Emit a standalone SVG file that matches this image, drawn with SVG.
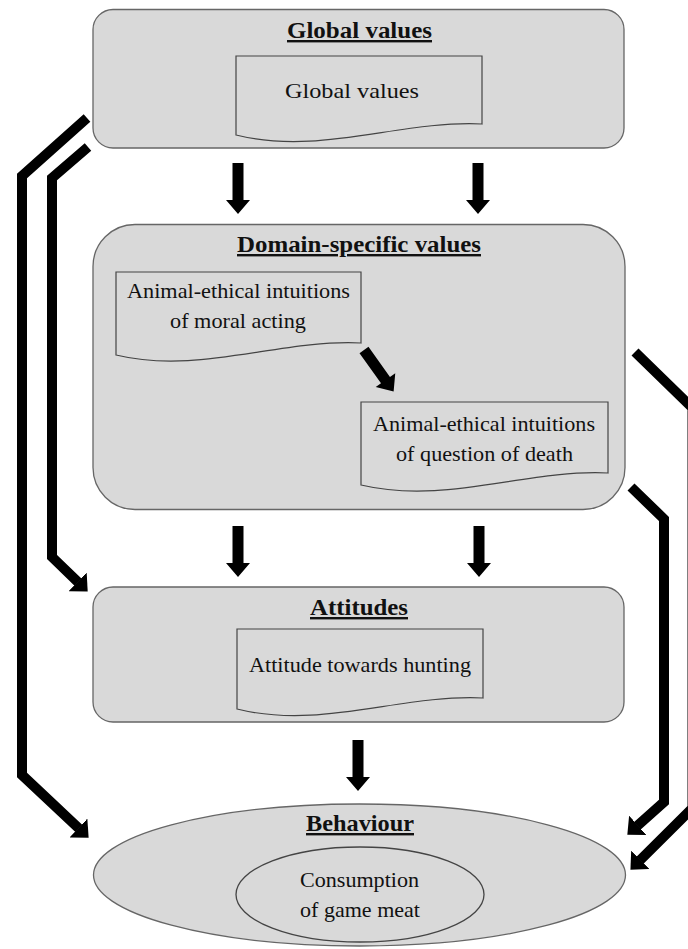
<svg xmlns="http://www.w3.org/2000/svg" xmlns:xlink="http://www.w3.org/1999/xlink" width="688" height="949" viewBox="0 0 688 949">
<style>
.box{fill:#d9d9d9;stroke:#666;stroke-width:1.3}
.doc{fill:#d9d9d9;stroke:#444;stroke-width:1.2}
.t{font-family:"Liberation Serif","Times New Roman",serif;font-size:21px;fill:#111;text-anchor:middle}
.h{font-family:"Liberation Serif","Times New Roman",serif;font-size:24px;font-weight:bold;fill:#111;text-anchor:middle;text-decoration:underline}
.con{fill:none;stroke:#000;stroke-width:10;stroke-linejoin:miter}
.ar{fill:#000}
</style>
<defs>
<path id="dn" d="M-5.5,0 H5.5 V37 H12 L0,51 L-12,37 H-5.5 Z"/>
<marker id="head" markerUnits="userSpaceOnUse" viewBox="0 0 14 26" markerWidth="14" markerHeight="26" refX="0.5" refY="13" orient="auto">
<path d="M0,0 L14,13 L0,26 Z" fill="#000"/>
</marker>
</defs>
<rect width="688" height="949" fill="#fff"/>

<g id="global-values">
<rect class="box" x="93" y="9.5" width="531" height="138.5" rx="20"/>
<text class="h" x="359.5" y="38" textLength="145" lengthAdjust="spacingAndGlyphs">Global values</text>
<path class="doc" d="M236,56 H482 V124 C400,120 320,156 236,135 Z"/>
<text class="t" x="352" y="98" textLength="134" lengthAdjust="spacingAndGlyphs">Global values</text>
</g>

<g id="domain-specific-values">
<rect class="box" x="93" y="224.5" width="532" height="285" rx="42"/>
<text class="h" x="359" y="252" textLength="244" lengthAdjust="spacingAndGlyphs">Domain-specific values</text>
<g id="moral-acting">
<path class="doc" d="M116,272 H361 V343 C279,339 199,375 116,355 Z"/>
<text class="t" x="238.5" y="298" textLength="223" lengthAdjust="spacingAndGlyphs">Animal-ethical intuitions</text>
<text class="t" x="238" y="328" textLength="136" lengthAdjust="spacingAndGlyphs">of moral acting</text>
</g>
<g id="question-of-death">
<path class="doc" d="M361,402 H608 V473 C526,469 446,505 361,485 Z"/>
<text class="t" x="484" y="431" textLength="222" lengthAdjust="spacingAndGlyphs">Animal-ethical intuitions</text>
<text class="t" x="484.5" y="461" textLength="177" lengthAdjust="spacingAndGlyphs">of question of death</text>
</g>
</g>

<g id="attitudes">
<rect class="box" x="93" y="587" width="531" height="135" rx="20"/>
<text class="h" x="359" y="615" textLength="98" lengthAdjust="spacingAndGlyphs">Attitudes</text>
<path class="doc" d="M237,629 H483 V698 C401,694 321,730 237,709 Z"/>
<text class="t" x="360" y="672" textLength="222" lengthAdjust="spacingAndGlyphs">Attitude towards hunting</text>
</g>

<g id="behaviour">
<ellipse class="box" cx="359.5" cy="875" rx="266" ry="71"/>
<text class="h" x="360" y="831" textLength="108" lengthAdjust="spacingAndGlyphs">Behaviour</text>
<ellipse class="box" cx="360" cy="894.5" rx="124" ry="47.5" style="stroke:#444"/>
<text class="t" x="359.5" y="887" textLength="119" lengthAdjust="spacingAndGlyphs">Consumption</text>
<text class="t" x="360" y="917" textLength="120" lengthAdjust="spacingAndGlyphs">of game meat</text>
</g>

<g id="connectors">
<use xlink:href="#dn" class="ar" x="238" y="163"/>
<use xlink:href="#dn" class="ar" x="478" y="163"/>
<use xlink:href="#dn" class="ar" x="238" y="526"/>
<use xlink:href="#dn" class="ar" x="479" y="526"/>
<use xlink:href="#dn" class="ar" x="358" y="740"/>
<use xlink:href="#dn" class="ar" transform="translate(364,350) rotate(-35.5)"/>
<polyline class="con" points="87,118 22,176 22,775 78.8,828.4" marker-end="url(#head)"/>
<polyline class="con" points="88,147 52,178 52,557 78,582.2" marker-end="url(#head)"/>
<polyline class="con" points="631,487 664,519 664,802 637.4,825.7" marker-end="url(#head)"/>
<polyline class="con" points="635,352 692.5,408 692.5,808 640,860.2" marker-end="url(#head)"/>
</g>
</svg>
